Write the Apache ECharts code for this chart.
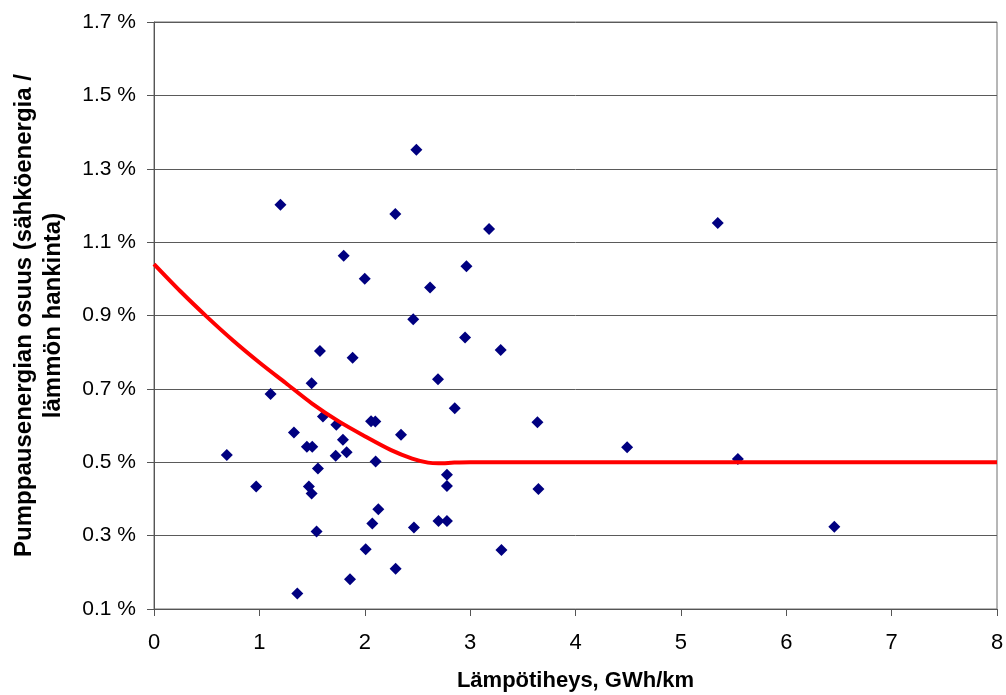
<!DOCTYPE html>
<html>
<head>
<meta charset="utf-8">
<script src="https://cdn.jsdelivr.net/npm/echarts@6/dist/echarts.min.js"></script>
<style>
html,body{margin:0;padding:0;background:#fff;}
#chart{width:1006px;height:695px;}
</style>
</head>
<body>
<div id="chart"></div>
<script>
// Scatter points: heat density (GWh/km) vs pumping energy share (%)
const pointX = [2.49, 1.20, 2.29, 1.80, 2.00, 2.62, 2.46, 1.575, 1.885, 1.496, 2.695, 1.106, 1.603, 1.73,
  2.06, 2.10, 1.328, 2.344, 1.793, 1.451, 1.502, 0.691, 1.724, 1.828, 2.103, 1.556, 0.970, 1.470, 1.496,
  2.129, 2.072, 2.467, 1.543, 2.009, 2.293, 1.860, 1.360, 2.780, 2.780, 2.700, 2.780,
  3.18, 2.965, 5.35, 2.952, 3.29, 2.854, 3.639, 4.49, 5.541, 3.648, 6.456, 3.297];
const pointY = [1.352, 1.202, 1.177, 1.063, 1.000, 0.976, 0.890, 0.803, 0.785, 0.715, 0.726, 0.686, 0.625, 0.602,
  0.612, 0.611, 0.581, 0.575, 0.561, 0.542, 0.542, 0.520, 0.518, 0.527, 0.502, 0.483, 0.434, 0.434, 0.415,
  0.372, 0.333, 0.322, 0.311, 0.263, 0.210, 0.181, 0.142, 0.466, 0.435, 0.340, 0.340,
  1.136, 1.034, 1.152, 0.840, 0.806, 0.647, 0.609, 0.541, 0.509, 0.427, 0.324, 0.261];
// Trend curve
const curveX = [0, 0.25, 0.5, 0.75, 1.0, 1.25, 1.5, 1.75, 2.0, 2.25, 2.45, 2.6, 2.7, 2.85, 3.0, 8];
const curveY = [1.04, 0.966, 0.897, 0.832, 0.772, 0.716, 0.660, 0.612, 0.571, 0.533, 0.510, 0.499, 0.497, 0.499, 0.500, 0.500];
const yTicks = [0.1, 0.3, 0.5, 0.7, 0.9, 1.1, 1.3, 1.5, 1.7];
const xTitle = 'Lämpötiheys, GWh/km';
const yTitle = 'Pumppausenergian osuus (sähköenergia /\nlämmön hankinta)';

const scatterData = pointX.map((x, i) => [x, pointY[i]]);
const curveData = curveX.map((x, i) => [x, curveY[i]]);

const chart = echarts.init(document.getElementById('chart'), null, {renderer: 'canvas'});
const font = '"Liberation Sans", Arial, sans-serif';
chart.setOption({
  animation: false,
  backgroundColor: '#ffffff',
  grid: {left: 154, right: 9, top: 22, bottom: 86, containLabel: false, outerBoundsMode: 'none',
    show: true, borderColor: '#6e6e6e', borderWidth: 1},
  xAxis: {
    type: 'value', min: 0, max: 8, interval: 1,
    name: xTitle, nameLocation: 'middle', nameGap: 61,
    nameTextStyle: {fontFamily: font, fontSize: 22, fontWeight: 'bold', color: '#000'},
    axisLine: {show: true, lineStyle: {color: '#555', width: 1}},
    axisTick: {show: true, inside: false, length: 7, lineStyle: {color: '#555'}},
    axisLabel: {fontFamily: font, fontSize: 22, color: '#000', margin: 23},
    splitLine: {show: false}
  },
  yAxis: {
    type: 'value', min: yTicks[0], max: yTicks[yTicks.length - 1], interval: 0.2,
    name: yTitle, nameLocation: 'middle', nameGap: 86, nameRotate: 90,
    nameTextStyle: {fontFamily: font, fontSize: 24, fontWeight: 'bold', color: '#000', lineHeight: 29},
    axisLine: {show: true, lineStyle: {color: '#555', width: 1}},
    axisTick: {show: true, inside: false, length: 7, lineStyle: {color: '#555'}},
    axisLabel: {fontFamily: font, fontSize: 21, color: '#000', margin: 18,
      formatter: v => v.toFixed(1) + ' %'},
    splitLine: {show: true, lineStyle: {color: '#5a5a5a', width: 1}}
  },
  series: [
    {
      type: 'scatter', data: scatterData, symbol: 'diamond', symbolSize: 12,
      itemStyle: {color: '#000080', opacity: 1}, z: 3
    },
    {
      type: 'line', data: curveData, smooth: 0.3, showSymbol: false,
      lineStyle: {color: '#ff0000', width: 4}, z: 4
    }
  ]
});
</script>
</body>
</html>
